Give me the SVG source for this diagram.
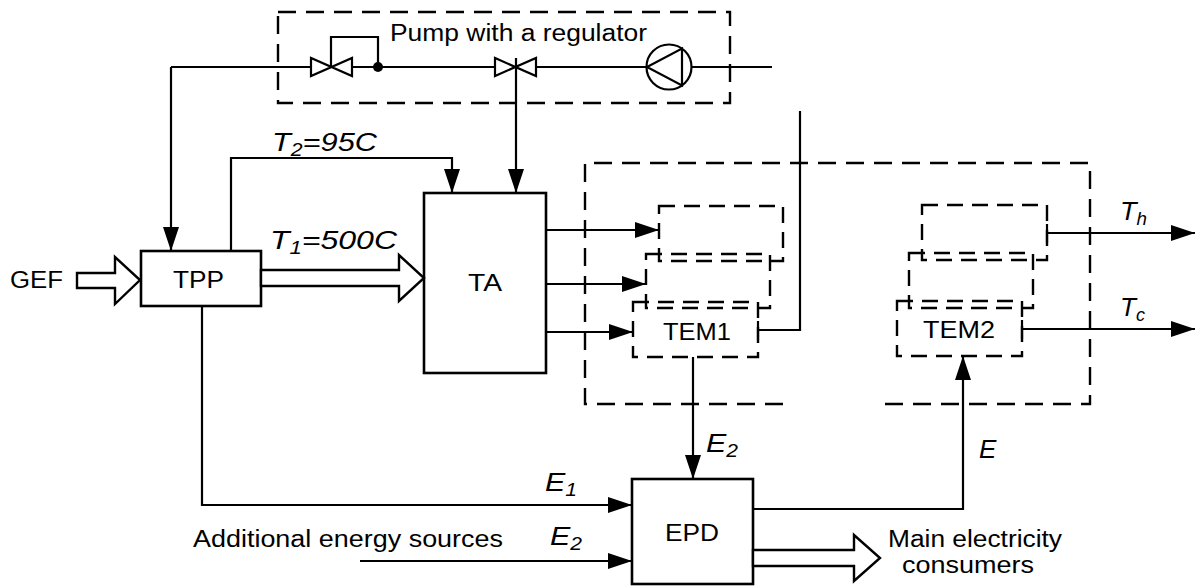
<svg xmlns="http://www.w3.org/2000/svg" width="1195" height="588" viewBox="0 0 1195 588">
<style>
.ln{fill:none;stroke:#000;stroke-width:2.2}
.box{fill:#fff;stroke:#000;stroke-width:2.6}
.dash{fill:none;stroke:#000;stroke-width:2.4;stroke-dasharray:18 10}
.sdash{fill:none;stroke:#000;stroke-width:2.4;stroke-dasharray:16 9}
.hol{fill:#fff;stroke:#000;stroke-width:2.4;stroke-linejoin:miter}
.t{font-family:"Liberation Sans",Arial,sans-serif;font-size:23px;fill:#000}
.i{font-family:"Liberation Sans",Arial,sans-serif;font-size:26px;font-style:italic;fill:#000}
</style>
<defs>
<marker id="ah" markerUnits="userSpaceOnUse" markerWidth="26" markerHeight="18" refX="24" refY="8" orient="auto">
<path d="M0,0 L24,8 L0,16 Z" fill="#000"/>
</marker>
</defs>

<g id="pump-regulator">
<rect class="dash" x="278" y="12" width="452" height="91"/>
<text class="t" x="390" y="41" textLength="257" lengthAdjust="spacingAndGlyphs">Pump with a regulator</text>
<path class="ln" d="M311,67 H171"/>
<path class="ln" d="M352,67 H495 M536,67 H647 M691,67 H772"/>
<path class="ln" d="M311,58 L311,76 L352,58 L352,76 Z"/>
<path class="ln" d="M331,67 V37 H378 V67"/>
<circle cx="378" cy="67" r="5" fill="#000"/>
<path class="ln" d="M495,58 L495,76 L536,58 L536,76 Z"/>
<circle class="ln" cx="669" cy="67" r="22.5"/>
<path class="ln" d="M682,48.6 V85.4 L647,67 Z"/>
</g>

<g id="GEF">
<text class="t" x="10" y="288" textLength="53" lengthAdjust="spacingAndGlyphs">GEF</text>
<polygon class="hol" points="77,273 115,273 115,257 140,280 115,304 115,288 77,288"/>
</g>

<g id="TPP">
<rect class="box" x="141" y="251" width="120" height="55"/>
<text class="t" x="173" y="288" textLength="51" lengthAdjust="spacingAndGlyphs">TPP</text>
</g>

<g id="TA">
<rect class="box" x="424" y="193" width="122" height="180"/>
<text class="t" x="468" y="291" textLength="34" lengthAdjust="spacingAndGlyphs">TA</text>
</g>

<g id="TEG-block">
<path class="dash" d="M783,404 H585 V163 H1090 V404 H876"/>
</g>

<g id="TEM1">
<rect class="sdash" x="659" y="206" width="124" height="55"/>
<rect class="sdash" x="646" y="254" width="124" height="54"/>
<rect class="sdash" x="633" y="302" width="125" height="55"/>
<text class="t" x="663" y="340" textLength="68" lengthAdjust="spacingAndGlyphs">TEM1</text>
</g>

<g id="TEM2">
<rect class="sdash" x="922" y="205" width="125" height="55"/>
<rect class="sdash" x="909" y="253" width="124" height="55"/>
<rect class="sdash" x="897" y="301" width="125" height="55"/>
<text class="t" x="923" y="338" textLength="72" lengthAdjust="spacingAndGlyphs">TEM2</text>
</g>

<g id="EPD">
<rect class="box" x="632" y="479" width="121" height="105"/>
<text class="t" x="665" y="541" textLength="54" lengthAdjust="spacingAndGlyphs">EPD</text>
</g>

<g id="consumers">
<polygon class="hol" points="753,550 854,550 854,535 880,558 854,581 854,566 753,566"/>
<text class="t" x="888" y="547" textLength="174" lengthAdjust="spacingAndGlyphs">Main electricity</text>
<text class="t" x="902" y="573" textLength="132" lengthAdjust="spacingAndGlyphs">consumers</text>
</g>

<g id="additional-sources">
<text class="t" x="193" y="547" textLength="310" lengthAdjust="spacingAndGlyphs">Additional energy sources</text>
</g>

<g id="connectors">
<polygon class="hol" points="261,270 399,270 399,255 424,278 399,301 399,286 261,286"/>
<path class="ln" d="M171,67 V251" marker-end="url(#ah)"/>
<path class="ln" d="M231,251 V158 H452 V193" marker-end="url(#ah)"/>
<path class="ln" d="M516,58 V193" marker-end="url(#ah)"/>
<path class="ln" d="M546,230 H659" marker-end="url(#ah)"/>
<path class="ln" d="M546,284 H646" marker-end="url(#ah)"/>
<path class="ln" d="M546,332 H633" marker-end="url(#ah)"/>
<path class="ln" d="M758,330 H800 V111"/>
<path class="ln" d="M758,321 V340"/>
<path class="ln" d="M1047,233 H1195" marker-end="url(#ah)"/>
<path class="ln" d="M1047,224 V243"/>
<path class="ln" d="M1022,329 H1195" marker-end="url(#ah)"/>
<path class="ln" d="M1022,320 V339"/>
<path class="ln" d="M693,357 V479" marker-end="url(#ah)"/>
<path class="ln" d="M753,509 H963 V356" marker-end="url(#ah)"/>
<path class="ln" d="M202,306 V505 H632" marker-end="url(#ah)"/>
<path class="ln" d="M360,561 H632" marker-end="url(#ah)"/>
<text class="i" x="272" y="151" textLength="105" lengthAdjust="spacingAndGlyphs">T<tspan font-size="18" dy="5">2</tspan><tspan dy="-5">=95C</tspan></text>
<text class="i" x="270" y="249" textLength="127" lengthAdjust="spacingAndGlyphs">T<tspan font-size="18" dy="5">1</tspan><tspan dy="-5">=500C</tspan></text>
<text class="i" x="1120" y="220" textLength="27" lengthAdjust="spacingAndGlyphs">T<tspan font-size="18" dy="5">h</tspan></text>
<text class="i" x="1120" y="316" textLength="25" lengthAdjust="spacingAndGlyphs">T<tspan font-size="18" dy="5">c</tspan></text>
<text class="i" x="545" y="491" textLength="32" lengthAdjust="spacingAndGlyphs">E<tspan font-size="18" dy="5">1</tspan></text>
<text class="i" x="550" y="545" textLength="32" lengthAdjust="spacingAndGlyphs">E<tspan font-size="18" dy="5">2</tspan></text>
<text class="i" x="706" y="452" textLength="32" lengthAdjust="spacingAndGlyphs">E<tspan font-size="18" dy="5">2</tspan></text>
<text class="i" x="979" y="458">E</text>
</g>
</svg>
